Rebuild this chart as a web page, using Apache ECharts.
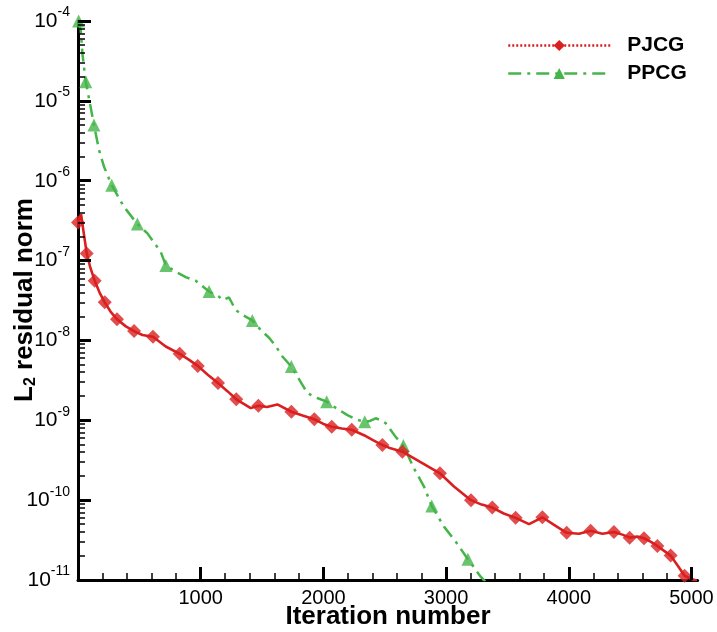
<!DOCTYPE html>
<html><head><meta charset="utf-8">
<script src="https://cdn.jsdelivr.net/npm/echarts@6/dist/echarts.min.js"></script>
<style>html,body{margin:0;padding:0;background:#fff}#wrap{position:relative;width:717px;height:632px}#c,#t{position:absolute;left:0;top:0;width:717px;height:632px}#t{pointer-events:none}</style>
</head><body><div id="wrap"><div id="c"></div><div id="t"></div></div>
<script>
// ---- data ----
const pjcgIter = [0, 25, 45, 71, 100, 136, 175, 218, 265, 318, 390, 457, 525, 611, 715, 829, 900, 976, 1060, 1141, 1220, 1290, 1408, 1470, 1540, 1625, 1739, 1830, 1926, 2000, 2068, 2150, 2231, 2331, 2400, 2481, 2548, 2644, 2792, 2950, 3064, 3203, 3290, 3377, 3470, 3567, 3676, 3785, 3880, 3983, 4083, 4178, 4274, 4368, 4437, 4496, 4560, 4613, 4670, 4722, 4780, 4830, 4890, 4944, 5000, 5045];
const pjcgRes = [3.0e-7, 3.8e-7, 2.3e-7, 1.23e-7, 8.2e-8, 5.6e-8, 4.0e-8, 3.0e-8, 2.3e-8, 1.84e-8, 1.5e-8, 1.31e-8, 1.17e-8, 1.11e-8, 8.4e-9, 6.8e-9, 5.8e-9, 4.8e-9, 3.7e-9, 2.93e-9, 2.3e-9, 1.83e-9, 1.42e-9, 1.52e-9, 1.47e-9, 1.58e-9, 1.28e-9, 1.15e-9, 1.03e-9, 9.0e-10, 8.3e-10, 7.9e-10, 7.6e-10, 6.5e-10, 5.7e-10, 4.9e-10, 4.45e-10, 4.05e-10, 3.0e-10, 2.17e-10, 1.48e-10, 1.0e-10, 8.8e-11, 8.06e-11, 6.8e-11, 6.0e-11, 5.0e-11, 6.1e-11, 4.9e-11, 3.9e-11, 3.8e-11, 4.15e-11, 3.8e-11, 3.99e-11, 3.7e-11, 3.39e-11, 3.5e-11, 3.33e-11, 3.0e-11, 2.67e-11, 2.3e-11, 2.02e-11, 1.5e-11, 1.13e-11, 1.03e-11, 9.8e-12];
const pjcgMarkIter = [0, 71, 136, 218, 318, 457, 611, 829, 976, 1141, 1290, 1470, 1739, 1926, 2068, 2231, 2481, 2644, 2950, 3203, 3377, 3567, 3785, 3983, 4178, 4368, 4496, 4613, 4722, 4830, 4944];
const pjcgMarkRes = [3.0e-7, 1.23e-7, 5.6e-8, 3.0e-8, 1.84e-8, 1.31e-8, 1.11e-8, 6.8e-9, 4.8e-9, 2.93e-9, 1.83e-9, 1.52e-9, 1.28e-9, 1.03e-9, 8.3e-10, 7.6e-10, 4.9e-10, 4.05e-10, 2.17e-10, 1.0e-10, 8.06e-11, 6.0e-11, 6.1e-11, 3.9e-11, 4.15e-11, 3.99e-11, 3.39e-11, 3.33e-11, 2.67e-11, 2.02e-11, 1.13e-11];

const ppcgIter = [5, 22, 36, 63, 103, 130, 171, 212, 275, 375, 484, 566, 674, 716, 800, 878, 959, 1068, 1149, 1177, 1231, 1285, 1350, 1421, 1490, 1557, 1611, 1666, 1739, 1800, 1870, 1950, 2027, 2110, 2196, 2270, 2337, 2380, 2426, 2470, 2508, 2589, 2652, 2738, 2820, 2883, 2983, 3080, 3178, 3282, 3320];
const ppcgRes = [1.0e-4, 7.7e-5, 3.9e-5, 1.74e-5, 8.4e-6, 5.0e-6, 2.43e-6, 1.5e-6, 8.8e-7, 4.7e-7, 2.87e-7, 2.19e-7, 1.29e-7, 8.7e-8, 7.2e-8, 6.2e-8, 5.6e-8, 4.1e-8, 3.53e-8, 3.2e-8, 3.45e-8, 2.4e-8, 2.05e-8, 1.78e-8, 1.35e-8, 1.08e-8, 8.5e-9, 6.3e-9, 4.7e-9, 3.3e-9, 2.18e-9, 1.9e-9, 1.71e-9, 1.4e-9, 1.16e-9, 1.02e-9, 9.6e-10, 9.8e-10, 1.06e-9, 1.0e-9, 9.2e-10, 6.2e-10, 4.85e-10, 2.5e-10, 1.48e-10, 8.45e-11, 4.66e-11, 3.0e-11, 1.82e-11, 1.1e-11, 9.5e-12];
const ppcgMarkIter = [5, 63, 130, 275, 484, 716, 1068, 1421, 1739, 2027, 2337, 2652, 2883, 3178];
const ppcgMarkRes = [1.0e-4, 1.74e-5, 5.0e-6, 8.8e-7, 2.87e-7, 8.7e-8, 4.1e-8, 1.78e-8, 4.7e-9, 1.71e-9, 9.6e-10, 4.85e-10, 8.45e-11, 1.82e-11];

const xTickValues = [1000, 2000, 3000, 4000, 5000];
const xLabelValues = [1000, 2000, 3000, 4000, 5000];
const seriesNames = ['PJCG', 'PPCG'];
const xTitle = 'Iteration number';
const yTitle = '{a|L}{sub|2}{a| residual norm}';

// ---- shared layout ----
const FONT = 'Liberation Sans';
const RED = '#d91f1f', GREEN = '#45b549';
const XMIN = 0, XMAX = 5050, YMIN = 1e-11, YMAX = 1e-4;
const GRID = { left: 78, right: 19.4, top: 21, bottom: 52, containLabel: false, outerBoundsMode: 'none' };
const zip = (a, b) => a.map((v, i) => [v, b[i]]);
const yMinorTicks = [];
for (let e = -11; e < -4; e++) for (let k = 2; k <= 9; k++) yMinorTicks.push(e + Math.log10(k));

// ---- main chart: axes lines, labels, titles, legend, series ----
const chart = echarts.init(document.getElementById('c'));
try {
  chart.setOption({
    animation: false,
    backgroundColor: '#fff',
    grid: GRID,
    legend: {
      orient: 'vertical', left: 507, top: 35, padding: 0,
      itemWidth: 102, itemHeight: 14, itemGap: 7,
      textStyle: { fontFamily: FONT, fontWeight: 'bold', fontSize: 21, lineHeight: 20, color: '#000', padding: [0, 0, 0, 12] },
      data: [
        { name: seriesNames[0], lineStyle: { type: [2, 2], width: 2.5 } },
        { name: seriesNames[1], lineStyle: { type: [13, 6, 3, 6], width: 2.5 } }
      ]
    },
    xAxis: {
      type: 'value', min: XMIN, max: XMAX, interval: 1000,
      axisLine: { show: true, lineStyle: { color: '#000', width: 3 } },
      axisTick: { show: false }, minorTick: { show: false },
      splitLine: { show: false },
      axisLabel: { customValues: xLabelValues, formatter: v => String(v), color: '#000', fontFamily: FONT, fontSize: 20 }
    },
    yAxis: {
      type: 'log', logBase: 10, min: YMIN, max: YMAX, splitNumber: 7,
      axisLine: { show: true, lineStyle: { color: '#000', width: 3 } },
      axisTick: { show: false },
      splitLine: { show: false },
      axisLabel: {
        formatter: v => '{b|10}{s|' + Math.round(Math.log10(v)) + '}',
        rich: {
          b: { fontFamily: FONT, fontSize: 21, color: '#000' },
          s: { fontFamily: FONT, fontSize: 14, color: '#000', padding: [0, 0, 17, 0] }
        }
      }
    },
    graphic: [
      { type: 'text', silent: true, x: 388, y: 617,
        style: { text: xTitle, fontFamily: FONT, fontWeight: 'bold', fontSize: 26, fill: '#000', align: 'center', verticalAlign: 'middle' } },
      { type: 'text', silent: true, x: 25, y: 300, rotation: Math.PI / 2,
        style: { text: yTitle, align: 'center', verticalAlign: 'middle', fill: '#000',
          rich: {
            a: { fontFamily: FONT, fontWeight: 'bold', fontSize: 26, fill: '#000' },
            sub: { fontFamily: FONT, fontWeight: 'bold', fontSize: 16, fill: '#000', padding: [12, 0, 0, 0] }
          } } }
    ],
    series: [
      { name: seriesNames[0], type: 'line', data: zip(pjcgIter, pjcgRes), symbol: 'diamond', showSymbol: false,
        lineStyle: { color: RED, width: 2.6, type: 'solid' }, itemStyle: { color: RED }, z: 3 },
      { name: seriesNames[0], type: 'scatter', data: zip(pjcgMarkIter, pjcgMarkRes), symbol: 'diamond', symbolSize: 14,
        itemStyle: { color: RED }, z: 4 },
      { name: seriesNames[1], type: 'line', data: zip(ppcgIter, ppcgRes), symbol: 'triangle', showSymbol: false,
        lineStyle: { color: GREEN, width: 2.5, type: [13, 6, 3, 6] }, itemStyle: { color: GREEN }, z: 2 },
      { name: seriesNames[1], type: 'scatter', data: zip(ppcgMarkIter, ppcgMarkRes), symbol: 'triangle', symbolSize: 13,
        itemStyle: { color: GREEN }, z: 2 }
    ]
  });
} catch (e) { console.error('main chart:', e); }

// ---- overlay chart: same grid and scales, only the inward ticks ----
const tickChart = echarts.init(document.getElementById('t'));
try {
  tickChart.setOption({
    animation: false,
    grid: GRID,
    xAxis: {
      type: 'value', min: XMIN, max: XMAX, interval: 1000,
      axisLine: { show: false },
      axisTick: { show: true, inside: true, length: 13, customValues: xTickValues, lineStyle: { color: '#000', width: 3 } },
      minorTick: { show: true, splitNumber: 5, length: 7, lineStyle: { color: '#000', width: 1.5 } },
      splitLine: { show: false }, axisLabel: { show: false }
    },
    yAxis: [{
      type: 'log', logBase: 10, min: YMIN, max: YMAX, splitNumber: 7,
      axisLine: { show: false },
      axisTick: { show: true, inside: true, length: 13, lineStyle: { color: '#000', width: 3 } },
      splitLine: { show: false }, axisLabel: { show: false }
    }, {
      type: 'value', min: -11, max: -4, position: 'left',
      axisLine: { show: false }, axisLabel: { show: false }, splitLine: { show: false },
      axisTick: { show: true, inside: true, length: 7, customValues: yMinorTicks, lineStyle: { color: '#000', width: 1.5 } }
    }],
    series: [{ type: 'line', data: [], silent: true }]
  });
} catch (e) { console.error('tick chart:', e); }
</script></body></html>
